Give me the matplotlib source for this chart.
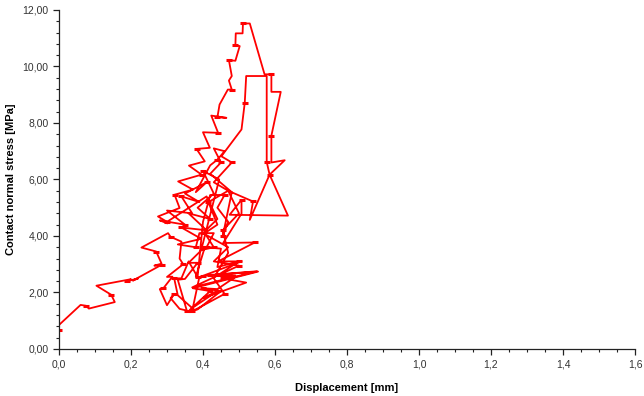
import matplotlib
matplotlib.use("Agg")
import matplotlib.pyplot as plt
from matplotlib.ticker import MultipleLocator, FuncFormatter

# Displacement [mm] and contact normal stress [MPa]
displacement = [
    0.000, 0.000, 0.060, 0.075, 0.083, 0.155, 0.145, 0.104, 0.200, 0.190, 0.220, 0.205,
    0.285, 0.265, 0.285, 0.270, 0.229, 0.303, 0.310, 0.340, 0.335, 0.345, 0.300, 0.315,
    0.290, 0.280, 0.300, 0.320, 0.310, 0.335, 0.355, 0.330, 0.350, 0.385, 0.360, 0.400,
    0.405, 0.380, 0.390, 0.370, 0.385, 0.450, 0.400, 0.440, 0.490, 0.420, 0.550, 0.370,
    0.500, 0.430, 0.470, 0.400, 0.440, 0.410, 0.300, 0.275, 0.335, 0.321, 0.372, 0.331,
    0.396, 0.361, 0.405, 0.382, 0.419, 0.400, 0.442, 0.423, 0.465, 0.440, 0.446, 0.469,
    0.480, 0.472, 0.480, 0.472, 0.490, 0.502, 0.490, 0.491, 0.510, 0.511, 0.530, 0.571,
    0.590, 0.590, 0.616, 0.590, 0.590, 0.627, 0.585, 0.636, 0.474, 0.507, 0.507, 0.456,
    0.544, 0.442, 0.507, 0.400, 0.553, 0.372, 0.420, 0.363, 0.380, 0.460, 0.430, 0.470,
    0.455, 0.500, 0.470, 0.539, 0.530, 0.585, 0.577, 0.577, 0.520, 0.516, 0.507, 0.451,
    0.480, 0.430, 0.470, 0.415, 0.440, 0.405, 0.430, 0.395, 0.445, 0.400, 0.430, 0.385,
    0.420, 0.360, 0.410, 0.340, 0.395, 0.330, 0.380, 0.390, 0.430, 0.410, 0.450, 0.440,
    0.500, 0.440, 0.490, 0.455, 0.520, 0.400, 0.440, 0.370, 0.330, 0.320, 0.340, 0.360,
    0.385, 0.400, 0.420, 0.460, 0.440, 0.470, 0.455, 0.480, 0.420, 0.450, 0.430, 0.460,
    0.440, 0.420, 0.380, 0.410, 0.350, 0.390, 0.340, 0.370, 0.300, 0.350, 0.280, 0.300,
]
stress = [
    0.67, 0.85, 1.56, 1.53, 1.43, 1.66, 1.92, 2.24, 2.47, 2.40, 2.50, 2.42,
    2.98, 2.95, 3.02, 3.45, 3.59, 4.10, 3.97, 3.80, 3.20, 3.00, 2.55, 2.56,
    2.15, 2.12, 1.55, 1.95, 1.80, 1.42, 1.36, 2.45, 2.48, 3.05, 3.05, 3.55,
    3.60, 2.55, 2.55, 1.35, 1.40, 2.05, 2.15, 2.12, 2.55, 2.62, 2.75, 2.18,
    2.95, 3.10, 3.60, 4.10, 4.60, 5.40, 4.50, 4.69, 4.99, 5.46, 5.64, 5.93,
    6.17, 6.49, 6.64, 7.08, 7.12, 7.67, 7.65, 8.26, 8.18, 8.20, 8.65, 9.18,
    9.18, 9.50, 9.66, 10.22, 10.20, 10.72, 10.75, 11.17, 11.17, 11.52, 11.52, 9.72,
    9.72, 9.10, 9.10, 7.55, 6.60, 6.68, 6.17, 4.72, 4.75, 5.28, 4.79, 3.75,
    3.77, 3.10, 3.10, 2.59, 2.74, 2.15, 2.05, 1.38, 1.40, 1.95, 2.50, 3.40,
    4.20, 4.80, 5.60, 5.22, 4.57, 6.17, 6.62, 9.66, 9.66, 8.71, 7.77, 6.82,
    6.60, 5.90, 5.60, 5.20, 4.40, 4.10, 3.60, 3.50, 6.00, 6.30, 5.50, 5.00,
    4.60, 4.80, 4.20, 4.30, 3.90, 3.70, 3.60, 4.10, 4.10, 3.60, 3.55, 2.90,
    3.10, 2.60, 2.60, 2.50, 2.35, 1.80, 2.05, 1.45, 1.90, 2.50, 2.50, 3.10,
    2.55, 4.50, 5.45, 5.45, 5.00, 4.50, 4.00, 5.55, 6.20, 6.60, 7.10, 7.00,
    6.70, 6.50, 5.55, 5.90, 5.50, 5.20, 5.40, 4.80, 4.90, 4.40, 4.55, 4.45,
]

plt.rcParams['font.family'] = ['Liberation Sans', 'DejaVu Sans']

fig = plt.figure(figsize=(6.44, 3.96), dpi=100)
ax = fig.add_axes([0.0916, 0.1187, 0.8944, 0.8563])

ax.plot(displacement, stress, color='#ff0000', linewidth=1.3,
        marker='_', markersize=5, markeredgewidth=2.2, markevery=3)

ax.set_xlim(0, 1.6)
ax.set_ylim(0, 12)
ax.xaxis.set_major_locator(MultipleLocator(0.2))
ax.xaxis.set_minor_locator(MultipleLocator(0.05))
ax.yaxis.set_major_locator(MultipleLocator(2))
ax.yaxis.set_minor_locator(MultipleLocator(0.4))
ax.xaxis.set_major_formatter(FuncFormatter(lambda v, p: f"{v:.1f}".replace('.', ',')))
ax.yaxis.set_major_formatter(FuncFormatter(lambda v, p: f"{v:.2f}".replace('.', ',')))

for s in ['top', 'right']:
    ax.spines[s].set_visible(False)
for s in ['left', 'bottom']:
    ax.spines[s].set_color('#222222')
    ax.spines[s].set_linewidth(0.9)

ax.tick_params(axis='both', which='major', direction='out', length=4, width=0.9,
               labelsize=7.5, colors='#222222', labelcolor='#333333')
ax.tick_params(axis='both', which='minor', direction='out', length=2, width=0.8,
               colors='#222222')

ax.set_xlabel('Displacement [mm]', fontsize=8, fontweight='bold', labelpad=10)
ax.set_ylabel('Contact normal stress [MPa]', fontsize=8, fontweight='bold', labelpad=5)

fig.savefig('out.png', dpi=100)
